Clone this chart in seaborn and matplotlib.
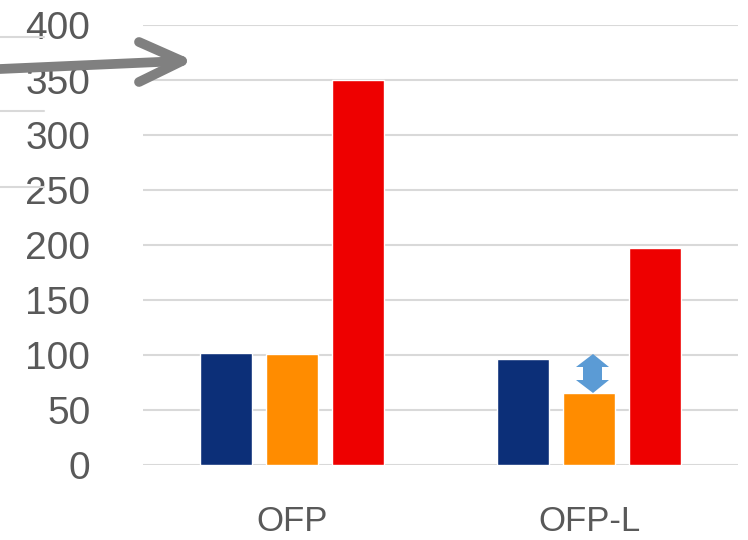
import matplotlib
matplotlib.use("Agg")
import matplotlib.pyplot as plt
import seaborn as sns
import pandas as pd
from matplotlib.patches import Polygon
from matplotlib.lines import Line2D

# values
categories = ["OFP", "OFP-L"]
series = ["s1", "s2", "s3"]
s1 = [101.5, 96]
s2 = [101, 65.5]
s3 = [350, 197]
colors = ["#0C2F78", "#FF8C00", "#EE0000"]
yticks = [0, 50, 100, 150, 200, 250, 300, 350, 400]

df = pd.DataFrame({
    "cat": categories * 3,
    "series": [s for s in series for _ in categories],
    "value": s1 + s2 + s3,
})

sns.set_style("white")
plt.rcParams["font.family"] = ["Liberation Sans", "DejaVu Sans"]

W, H = 748, 540
fig = plt.figure(figsize=(W / 100, H / 100), dpi=100)
ax = fig.add_axes([143 / W, (H - 465) / H, (738 - 143) / W, 440 / H])

sns.barplot(data=df, x="cat", y="value", hue="series", palette=colors,
            width=0.664, gap=0.21, saturation=1, legend=False, ax=ax)

ax.set_xlim(-0.5, 1.5)
ax.set_ylim(0, 400)
ax.set_yticks(yticks)
ax.grid(axis="y", color="#D9D9D9", linewidth=1.5)
ax.set_axisbelow(True)
sns.despine(ax=ax, left=True, bottom=True)
ax.tick_params(length=0)
ax.tick_params(axis="y", labelsize=28, labelcolor="#595959", pad=38)
ax.tick_params(axis="x", labelsize=25, labelcolor="#595959", pad=29)
ax.set_xlabel("")
ax.set_ylabel("")


def px(x, y):
    return (x / W, (H - y) / H)


# stray lines of neighbouring chart at left edge
for yy in [37, 111, 187]:
    fig.add_artist(Line2D([0, 44 / W], [(H - yy) / H] * 2, color="#D9D9D9",
                          linewidth=1.5, transform=fig.transFigure))

# gray arrow
arrow_kw = dict(color="#808080", linewidth=7, solid_capstyle="round",
                transform=fig.transFigure)
for (xa, ya), (xb, yb) in [((0, 69), (181, 61)), ((139, 42), (182, 61)), ((139, 82), (182, 61))]:
    p1, p2 = px(xa, ya), px(xb, yb)
    fig.add_artist(Line2D([p1[0], p2[0]], [p1[1], p2[1]], **arrow_kw))

# blue double arrow
pts = [(593, 354), (609, 367), (602, 367), (602, 380), (609, 380), (593, 393),
       (576, 380), (583, 380), (583, 367), (576, 367)]
fig.add_artist(Polygon([px(a, b) for a, b in pts], closed=True, facecolor="#5B9BD5",
                       edgecolor="none", transform=fig.transFigure))

fig.savefig("out.png", dpi=100)
